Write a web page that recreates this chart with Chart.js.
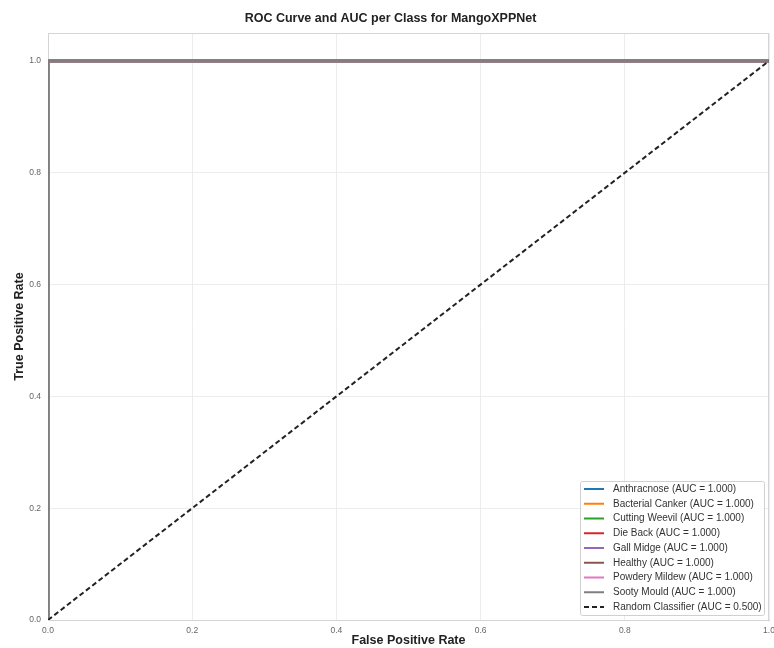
<!DOCTYPE html>
<html>
<head>
<meta charset="utf-8">
<script src="https://cdn.jsdelivr.net/npm/chart.js@4"></script>
<style>
  html, body { margin: 0; padding: 0; background: #fff; }
  #wrap { width: 774px; height: 648px; }
</style>
</head>
<body>
<div id="wrap"><canvas id="rocChart" width="774" height="648"></canvas></div>
<script>
// ROC curves per class (every class reaches TPR 1.0 at FPR 0.0)
const classNames = ["Anthracnose", "Bacterial Canker", "Cutting Weevil", "Die Back",
  "Gall Midge", "Healthy", "Powdery Mildew", "Sooty Mould"];
const classAuc = [1.000, 1.000, 1.000, 1.000, 1.000, 1.000, 1.000, 1.000];
const classFpr = [0.0, 0.0, 1.0];
const classTpr = [0.0, 1.0, 1.0];
const randomFpr = [0.0, 1.0];
const randomTpr = [0.0, 1.0];
const randomAuc = 0.500;
const tickValues = [0.0, 0.2, 0.4, 0.6, 0.8, 1.0];

const colors = ["#1f77b4", "#ff7f0e", "#2ca02c", "#d62728", "#9467bd", "#8c564b", "#e377c2", "#7f7f7f"];
const FONT = "'Liberation Sans', Arial, sans-serif";

function toPoints(xs, ys) {
  return xs.map((x, i) => ({ x: x, y: ys[i] }));
}

// later datasets go on top, like matplotlib
const datasets = classNames.map((name, i) => ({
  label: `${name} (AUC = ${classAuc[i].toFixed(3)})`,
  data: toPoints(classFpr, classTpr),
  borderColor: colors[i],
  borderWidth: i === classNames.length - 1 ? 3.2 : 2.4,
  pointRadius: 0,
  fill: false,
  tension: 0,
  order: classNames.length + 1 - i
}));
datasets.push({
  label: `Random Classifier (AUC = ${randomAuc.toFixed(3)})`,
  data: toPoints(randomFpr, randomTpr),
  borderColor: "#222",
  borderWidth: 2,
  borderDash: [5, 3],
  pointRadius: 0,
  fill: false,
  order: 0
});

// light frame round the plot + legend box in the lower right
const frameAndLegend = {
  id: "frameAndLegend",
  beforeDatasetsDraw(chart) {
    const ctx = chart.ctx;
    const a = chart.chartArea;
    ctx.save();
    ctx.strokeStyle = "#d4d4d4";
    ctx.lineWidth = 1;
    ctx.strokeRect(a.left + 0.5, a.top + 0.5, a.right - a.left - 1, a.bottom - a.top);
    ctx.restore();
  },
  afterDatasetsDraw(chart) {
    const ctx = chart.ctx;
    const area = chart.chartArea;
    const rowH = 14.75;
    const list = chart.data.datasets;
    const boxW = 184, boxH = 134;
    const bx = area.right - boxW - 5, by = area.bottom - boxH - 5;
    ctx.save();
    ctx.fillStyle = "rgba(255,255,255,0.85)";
    ctx.strokeStyle = "#d0d0d0";
    ctx.lineWidth = 1;
    ctx.beginPath();
    ctx.roundRect(bx + 0.5, by + 0.5, boxW, boxH, 2);
    ctx.fill();
    ctx.stroke();
    ctx.font = "10px " + FONT;
    ctx.textBaseline = "middle";
    list.forEach((ds, i) => {
      const y = by + 8 + i * rowH;
      ctx.strokeStyle = ds.borderColor;
      ctx.lineWidth = 2;
      ctx.setLineDash(ds.borderDash || []);
      ctx.beginPath();
      ctx.moveTo(bx + 4, y);
      ctx.lineTo(bx + 24, y);
      ctx.stroke();
      ctx.setLineDash([]);
      ctx.fillStyle = "#333";
      ctx.fillText(ds.label, bx + 33, y);
    });
    ctx.restore();
  }
};

new Chart(document.getElementById("rocChart").getContext("2d"), {
  type: "line",
  data: { datasets: datasets },
  plugins: [frameAndLegend],
  options: {
    responsive: false,
    animation: false,
    layout: { padding: { left: 12, right: 5, top: 0, bottom: 0 } },
    plugins: {
      legend: { display: false },
      tooltip: { enabled: false },
      title: {
        display: true,
        text: "ROC Curve and AUC per Class for MangoXPPNet",
        color: "#222",
        font: { family: FONT, size: 12.5, weight: "bold" },
        padding: { top: 11, bottom: 7 }
      }
    },
    scales: {
      x: {
        type: "linear",
        min: 0,
        max: 1,
        afterBuildTicks: s => { s.ticks = tickValues.map(v => ({ value: v })); },
        afterFit: s => { s.height = 28; s.paddingLeft = 0; s.paddingRight = 0; },
        grid: { color: "#ececec", lineWidth: 1, drawTicks: false },
        border: { color: "#cccccc" },
        ticks: {
          color: "#666",
          padding: 6,
          maxRotation: 0,
          font: { family: FONT, size: 8.5 },
          callback: v => v.toFixed(1)
        },
        title: {
          display: true,
          text: "False Positive Rate",
          color: "#222",
          padding: { top: 0, bottom: 0 },
          font: { family: FONT, size: 12.5, weight: "bold" }
        }
      },
      y: {
        type: "linear",
        min: 0,
        max: 1.05,
        afterBuildTicks: s => { s.ticks = tickValues.map(v => ({ value: v })); },
        afterFit: s => { s.width = 36; s.paddingTop = 0; s.paddingBottom = 0; },
        grid: { color: "#ececec", lineWidth: 1, drawTicks: false },
        border: { color: "#cccccc" },
        ticks: {
          color: "#666",
          padding: 7,
          font: { family: FONT, size: 8.5 },
          callback: v => v.toFixed(1)
        },
        title: {
          display: true,
          text: "True Positive Rate",
          color: "#222",
          padding: { top: 0, bottom: 0 },
          font: { family: FONT, size: 12.5, weight: "bold" }
        }
      }
    }
  }
});
</script>
</body>
</html>
